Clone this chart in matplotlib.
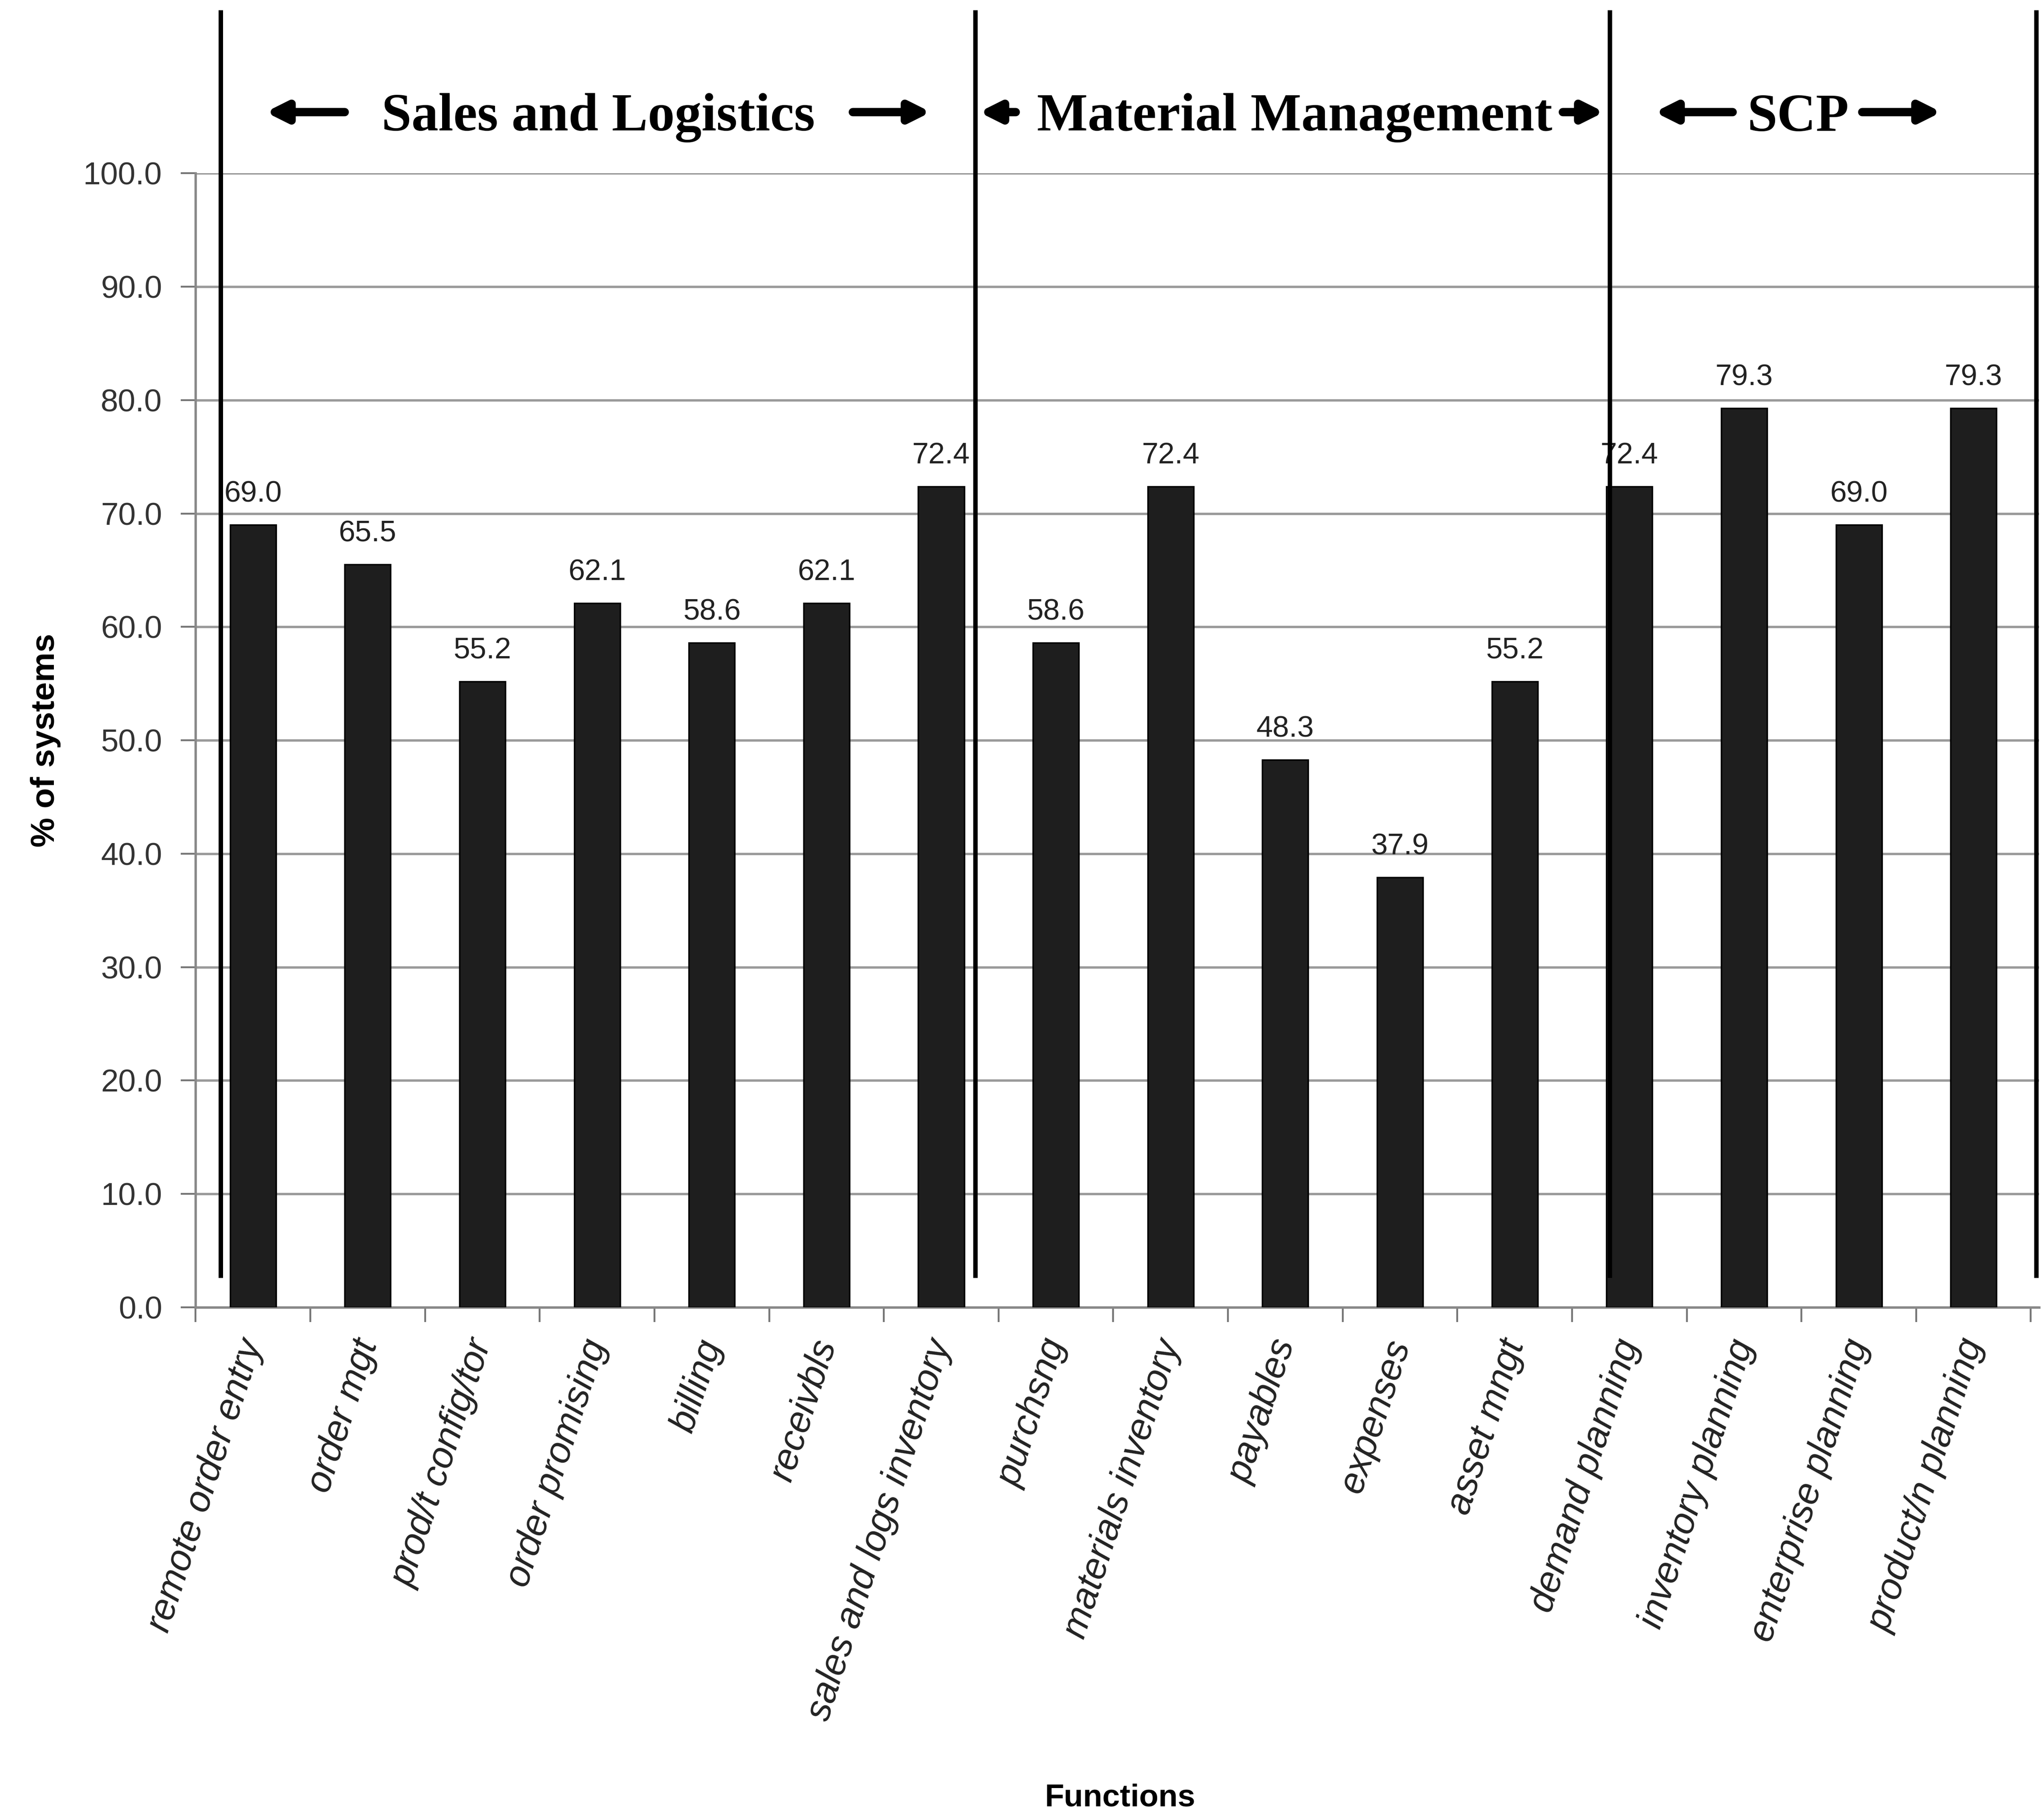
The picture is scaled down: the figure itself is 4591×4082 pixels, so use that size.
import matplotlib
matplotlib.use("Agg")
import matplotlib.pyplot as plt
import numpy as np

# functions surveyed and share of systems supporting each (%)
functions = ["remote order entry", "order mgt", "prod/t config/tor", "order promising",
             "billing", "receivbls", "sales and logs inventory", "purchsng",
             "materials inventory", "payables", "expenses", "asset mngt",
             "demand planning", "inventory planning", "enterprise planning",
             "product/n planning"]
pct_systems = [69.0, 65.5, 55.2, 62.1, 58.6, 62.1, 72.4, 58.6,
               72.4, 48.3, 37.9, 55.2, 72.4, 79.3, 69.0, 79.3]

# group headers across the top and the separators between them
groups = ["Sales and Logistics", "Material Management", "SCP"]
group_centres = [3.01, 9.08, 13.47]
separators = [-0.28, 6.30, 11.83, 15.55]

plt.rcParams['font.family'] = ['Liberation Sans', 'DejaVu Sans']

fig = plt.figure(figsize=(4591 / 300, 4082 / 300), dpi=300)
ax = fig.add_axes([0.0957, 0.2805, 0.9018, 0.6241])

x = np.arange(len(functions))
ax.bar(x, pct_systems, width=0.4, color="#1e1e1e", edgecolor="black", linewidth=0.8, zorder=3)

for xi, v in zip(x, pct_systems):
    ax.annotate(f"{v:.1f}", (xi, v), xytext=(0, 9), textcoords="offset points",
                ha="center", va="bottom", fontsize=16, color="#222222", zorder=5)

ax.set_xlim(-0.5, 15.57)
ax.set_ylim(0, 100)
ax.set_yticks(np.arange(0, 101, 10))
ax.set_yticklabels([f"{t:.1f}" for t in np.arange(0, 101, 10)], fontsize=17, color="#333333")
ax.yaxis.grid(True, color="#9a9a9a", linewidth=1.3, zorder=0)

ax.set_xticks(x)
ax.set_xticklabels(functions, rotation=72, ha="right", va="center", rotation_mode="anchor",
                   fontsize=20, style="italic", color="#222222")
ax.tick_params(axis="x", which="major", length=0, pad=18)
ax.set_xticks(np.arange(-0.5, 15.6, 1.0), minor=True)
ax.tick_params(axis="x", which="minor", length=8, color="#777777", width=1)
ax.tick_params(axis="y", length=8, color="#777777", width=1, pad=10)

for side in ["top", "right"]:
    ax.spines[side].set_visible(False)
for side in ["left", "bottom"]:
    ax.spines[side].set_color("#888888")
    ax.spines[side].set_linewidth(1.3)

ax.set_ylabel("% of systems", fontsize=18, fontweight="bold", labelpad=12)
fig.text(0.548, 0.0105, "Functions", ha="center", va="center", fontsize=17, fontweight="bold")

# vertical separators between groups, running up past the plot top
for sx in separators:
    ax.plot([sx, sx], [2.8, 114.2], color="black", linewidth=2.4, clip_on=False, zorder=6)

# group headers with arrows on each side
for name, cx in zip(groups, group_centres):
    ax.text(cx, 104.9, name, ha="center", va="center", fontsize=29, fontweight="bold",
            family=["Liberation Serif", "DejaVu Serif"], clip_on=False)

arrows = [(0.80, 0.11), (5.23, 5.91), (6.65, 6.33), (11.42, 11.78), (12.90, 12.22), (14.03, 14.72)]
for tail, tip in arrows:
    ax.annotate("", xy=(tip, 105.4), xytext=(tail, 105.4), xycoords="data",
                arrowprops=dict(arrowstyle="-|>,head_length=0.9,head_width=0.45",
                                color="black", lw=4.5, shrinkA=0, shrinkB=0),
                annotation_clip=False)

fig.savefig("out.png", dpi=300)
